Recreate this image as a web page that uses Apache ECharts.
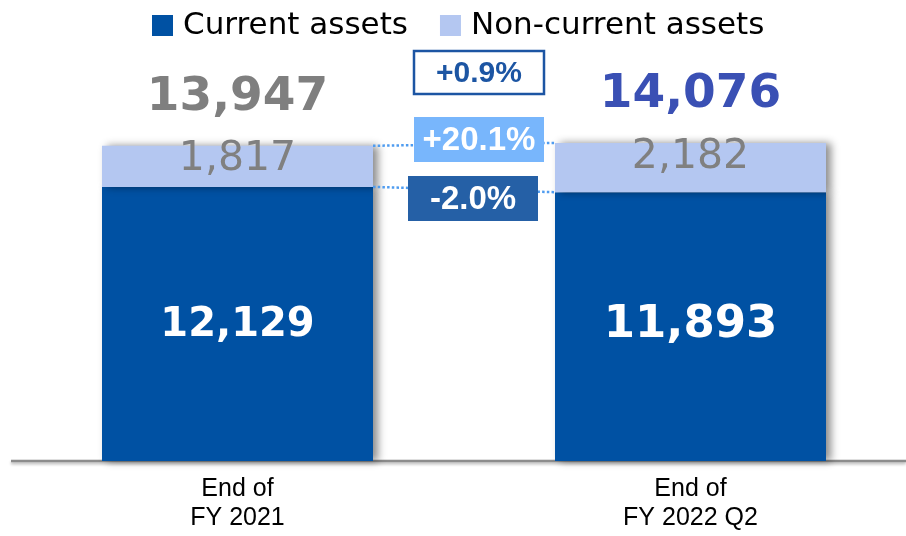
<!DOCTYPE html>
<html>
<head>
<meta charset="utf-8">
<script src="https://cdn.jsdelivr.net/npm/echarts@6/dist/echarts.min.js"></script>
<style>
html,body{margin:0;padding:0;background:#fff;}
#chart{width:906px;height:536px;}
</style>
</head>
<body>
<div id="chart"></div>
<script>
const categories = ['End of\nFY 2021', 'End of\nFY 2022 Q2'];
const currentAssets = [12129, 11893];
const nonCurrentAssets = [1817, 2182];
const totals = [13947, 14076];
const changeLabels = ['+0.9%', '+20.1%', '-2.0%'];
const seriesNames = ['Current assets', 'Non-current assets'];

const currentFontSizes = [40, 45];
const currentLabelOffsets = [2, -1];
const totalColors = ['#7f7f7f', '#3a50b4'];
const BAR_W = 271;

const fmt = v => v.toLocaleString('en-US');

const chart = echarts.init(document.getElementById('chart'), null, {renderer: 'canvas'});

const option = {
  animation: false,
  backgroundColor: '#fff',
  legend: {
    data: seriesNames,
    left: 147, top: 5,
    icon: 'rect', itemWidth: 21, itemHeight: 21, itemGap: 32,
    textStyle: {fontFamily: 'DejaVu Sans', fontSize: 31, color: '#000', padding: [0, 0, 0, 5]}
  },
  grid: {left: 237.5, right: 215.5, top: 9, bottom: 75, containLabel: false},
  xAxis: {
    type: 'category', data: categories, boundaryGap: false,
    axisLine: {show: false}, axisTick: {show: false},
    axisLabel: {margin: 14, fontFamily: 'Liberation Sans', fontSize: 25, lineHeight: 29, color: '#000'}
  },
  yAxis: {type: 'value', min: 0, max: 20000, show: false, splitLine: {show: false}},
  series: [
    {
      name: seriesNames[0], type: 'bar', stack: 'a', barWidth: BAR_W, clip: false,
      itemStyle: {color: '#0051a3', shadowBlur: 8, shadowColor: 'rgba(0,0,0,0.45)', shadowOffsetX: 5},
      data: currentAssets.map((v, i) => ({value: v, label: {fontSize: currentFontSizes[i], offset: [0, currentLabelOffsets[i]]}})),
      label: {show: true, position: 'inside', formatter: p => fmt(p.value),
        color: '#fff', fontFamily: 'DejaVu Sans', fontWeight: 'bold', fontSize: 40}
    },
    {
      name: seriesNames[1], type: 'bar', stack: 'a', barWidth: BAR_W, clip: false,
      itemStyle: {color: '#b4c7f1', shadowBlur: 8, shadowColor: 'rgba(0,0,0,0.45)', shadowOffsetX: 5},
      data: nonCurrentAssets,
      label: {show: true, position: ['50%', 14], align: 'center', verticalAlign: 'middle',
        formatter: p => fmt(p.value), color: '#808080', fontFamily: 'DejaVu Sans', fontSize: 41}
    },
    {
      name: 'Total', type: 'scatter', symbolSize: 0, silent: true, clip: false,
      itemStyle: {opacity: 1},
      data: totals.map((v, i) => ({value: v, label: {color: totalColors[i]}})),
      label: {show: true, position: 'top', distance: 25, formatter: p => fmt(p.value),
        fontFamily: 'DejaVu Sans', fontWeight: 'bold', fontSize: 47}
    }
  ]
};
chart.setOption(option);

// annotations computed from data through the chart's scales
const p = (i, v) => chart.convertToPixel({seriesIndex: 0}, [i, v]);
const tot0 = p(0, totals[0]), tot1 = p(1, totals[1]);
const cur0 = p(0, currentAssets[0]), cur1 = p(1, currentAssets[1]);
const base = p(0, 0);
const r0 = tot0[0] + BAR_W / 2, l1 = tot1[0] - BAR_W / 2;
const dot = {stroke: '#4f9cf0', lineWidth: 2.5, lineDash: [2.5, 2.2]};

function box(x, y, w, h, fill, stroke, text, textColor, fs) {
  return [
    {type: 'rect', z: 20, shape: {x: x, y: y, width: w, height: h},
     style: {fill: fill, stroke: stroke, lineWidth: stroke ? 2.5 : 0}},
    {type: 'text', z: 21, x: x + w / 2, y: y + h / 2 + 1,
     style: {text: text, fill: textColor, font: 'bold ' + fs + 'px "Liberation Sans", Arial, sans-serif',
       textAlign: 'center', textVerticalAlign: 'middle'}}
  ];
}

chart.setOption({
  graphic: [
    {type: 'line', z: 1, shape: {x1: 11, y1: base[1], x2: 906, y2: base[1]},
     style: {stroke: '#8c8c8c', lineWidth: 2.5, shadowBlur: 3, shadowColor: 'rgba(0,0,0,0.3)', shadowOffsetY: 2}},
    {type: 'line', z: 10, shape: {x1: r0, y1: tot0[1], x2: l1, y2: tot1[1]}, style: dot},
    {type: 'line', z: 10, shape: {x1: r0, y1: cur0[1], x2: l1, y2: cur1[1]}, style: dot},
    ...box(414, 51, 130, 43, '#ffffff', '#1c55a3', changeLabels[0], '#1c55a3', 30),
    ...box(414, 117, 130, 45, '#78b6fc', null, changeLabels[1], '#ffffff', 33),
    ...box(408, 176, 130, 45, '#2560a6', null, changeLabels[2], '#ffffff', 33)
  ]
});
</script>
</body>
</html>
